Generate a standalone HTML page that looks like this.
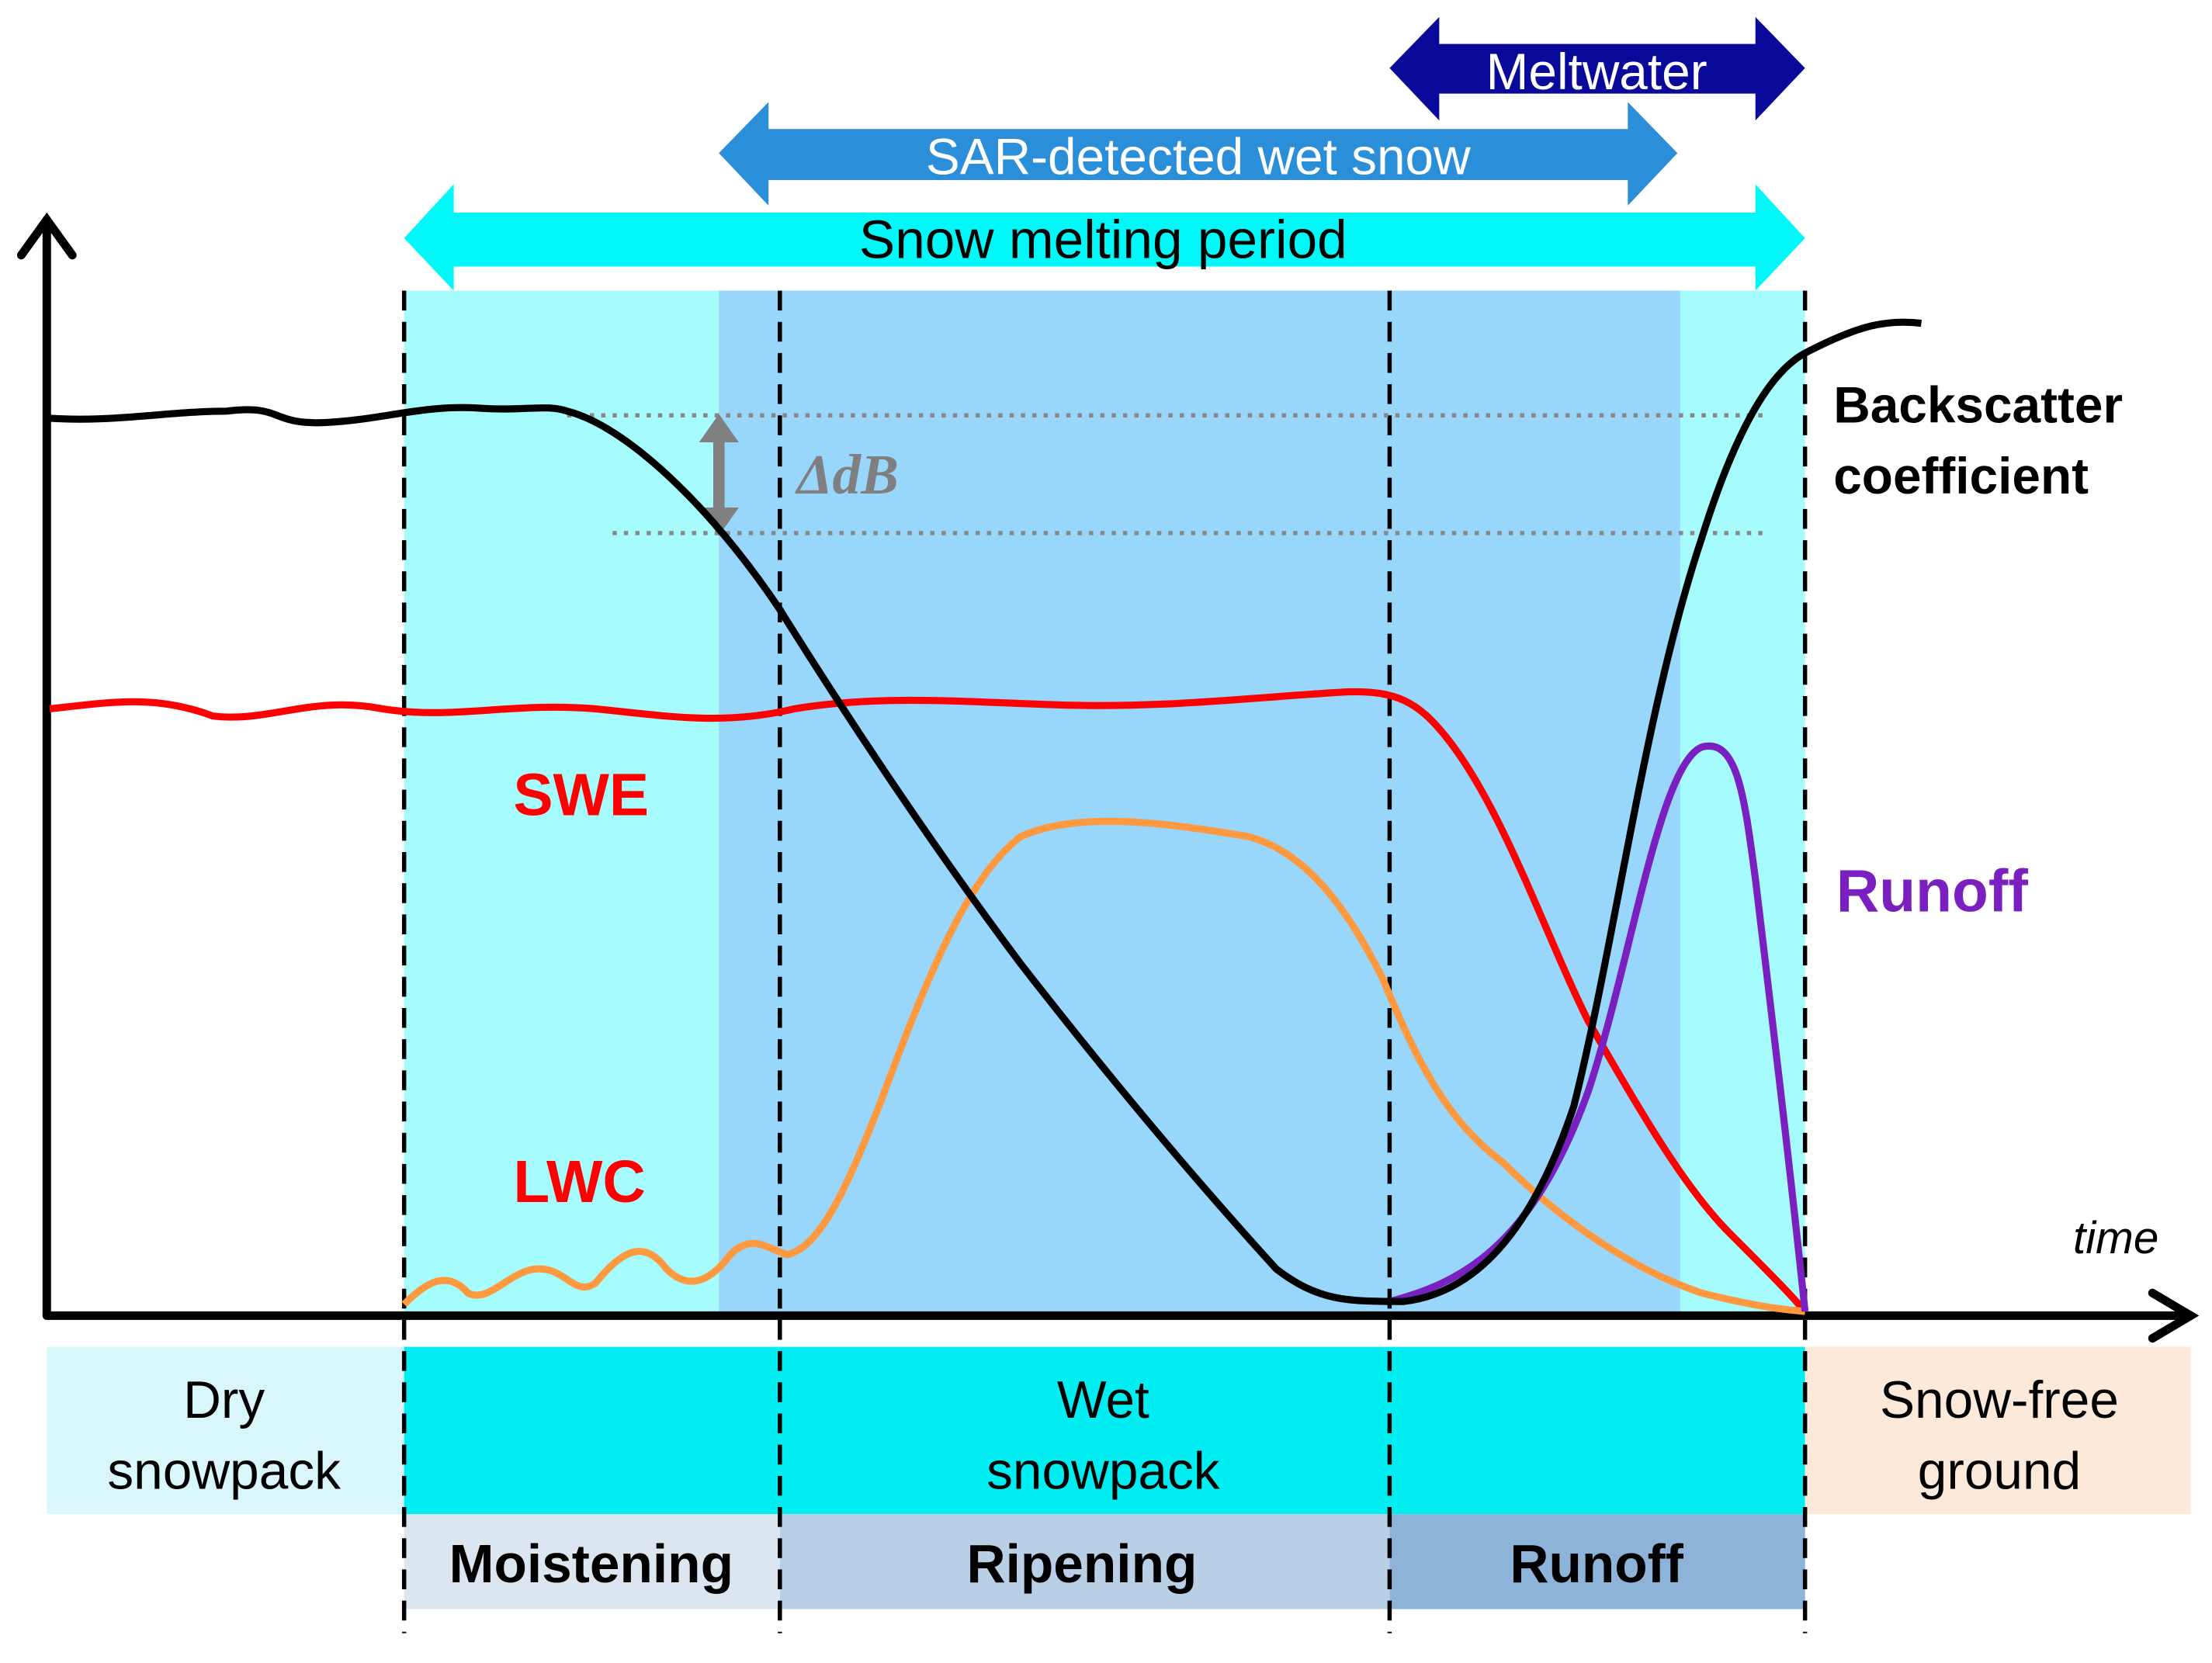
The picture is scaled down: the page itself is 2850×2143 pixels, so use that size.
<!DOCTYPE html>
<html><head><meta charset="utf-8"><style>html,body{margin:0;padding:0;background:#fff}svg{display:block}</style></head>
<body>
<svg width="2850" height="2143" viewBox="0 0 1560 1173" preserveAspectRatio="none" xmlns="http://www.w3.org/2000/svg" font-family="Liberation Sans, sans-serif">
<rect width="1560" height="1173" fill="#fff"/>
<!-- background regions -->
<rect x="285" y="205" width="222" height="723" fill="#a6fcfc"/>
<rect x="507" y="205" width="678" height="723" fill="#99d6fb"/>
<rect x="1185" y="205" width="88" height="723" fill="#a6fcfc"/>
<!-- bottom bands -->
<rect x="33" y="950" width="252" height="118" fill="#d9f7fb"/>
<rect x="285" y="950" width="988" height="118" fill="#00eef2"/>
<rect x="1273" y="950" width="272" height="118" fill="#fde9d9"/>
<rect x="285" y="1068" width="265" height="67" fill="#dce6f0"/>
<rect x="550" y="1068" width="430" height="67" fill="#b8cfe6"/>
<rect x="980" y="1068" width="293" height="67" fill="#8db3d9"/>
<!-- top arrows -->
<polygon points="285,168 320,130 320,150 1238,150 1238,130 1273,168 1238,205 1238,188 320,188 320,205" fill="#00f8f8"/>
<text x="778" y="182" font-size="38" text-anchor="middle" fill="#000">Snow melting period</text>
<polygon points="507,108 542,72 542,91 1148,91 1148,72 1183,108 1148,145 1148,127 542,127 542,145" fill="#2a8fd8"/>
<text x="845" y="123" font-size="36" text-anchor="middle" fill="#fff">SAR-detected  wet snow</text>
<polygon points="980,48 1015,12 1015,31 1238,31 1238,12 1273,48 1238,85 1238,66 1015,66 1015,85" fill="#0a0a9a"/>
<text x="1126" y="63" font-size="36" text-anchor="middle" fill="#fff">Meltwater</text>
<!-- dashed verticals -->
<g stroke="#000" stroke-width="3" stroke-dasharray="14,8">
<line x1="285" y1="205" x2="285" y2="1152"/>
<line x1="550" y1="205" x2="550" y2="1152"/>
<line x1="980" y1="205" x2="980" y2="1152"/>
<line x1="1273" y1="205" x2="1273" y2="1152"/>
</g>
<!-- dotted lines -->
<g stroke="#888" stroke-width="3" stroke-dasharray="3,5">
<line x1="400" y1="293" x2="1245" y2="293"/>
<line x1="432" y1="376" x2="1245" y2="376"/>
</g>
<g fill="#808080">
<rect x="503" y="310" width="8" height="50"/>
<polygon points="493,312 507,292 521,312"/>
<polygon points="493,358 507,378 521,358"/>
</g>
<text x="562" y="348" font-size="40" font-family="Liberation Serif, serif" font-style="italic" font-weight="bold" fill="#7f7f7f">ΔdB</text>
<!-- axes -->
<g stroke="#000" stroke-width="6" fill="none" stroke-linecap="round">
<line x1="33" y1="155" x2="33" y2="928"/>
<line x1="33" y1="928" x2="1545" y2="928"/>
<polyline points="15,180 33,155 51,180"/>
<polyline points="1518,912 1545,928 1518,944"/>
</g>
<!-- curves -->
<path d="M35,500 C80,495 110,490 150,505 C190,510 220,490 270,500 C320,508 360,495 420,500 C470,505 510,512 560,500 C620,490 680,495 740,497 C820,500 880,492 950,488 C985,487 1000,495 1020,520 C1060,570 1090,660 1120,720 C1160,790 1190,840 1220,870 C1245,895 1262,912 1273,925" stroke="#ff0000" stroke-width="5" fill="none"/>
<path d="M285,920 C300,905 315,895 330,912 C345,920 360,895 380,895 C400,895 405,915 420,905 C440,880 455,875 470,895 C485,910 500,905 515,885 C530,870 540,880 555,885 C580,880 600,830 620,780 C650,700 680,620 720,590 C760,572 820,580 880,590 C920,600 950,640 975,690 C1000,750 1020,790 1060,820 C1100,860 1150,895 1200,912 C1240,922 1260,924 1273,925" stroke="#ff9940" stroke-width="5" fill="none"/>
<path d="M980,918 C1030,905 1080,880 1120,770 C1150,680 1170,540 1200,527 C1225,520 1230,560 1238,620 C1250,720 1262,820 1273,925" stroke="#7a1fc0" stroke-width="5" fill="none"/>
<path d="M35,295 C80,298 120,290 160,290 C200,285 190,300 230,298 C270,296 300,285 340,288 C370,290 385,285 400,290 C440,300 500,355 550,430 C600,510 660,600 720,680 C790,770 850,840 900,895 C930,918 950,918 990,918 C1040,912 1080,870 1110,780 C1140,660 1160,500 1200,380 C1225,300 1250,260 1275,248 C1310,230 1330,225 1355,228" stroke="#000" stroke-width="5" fill="none"/>
<!-- labels -->
<g font-weight="bold">
<text x="362" y="575" font-size="42" fill="#ff0000">SWE</text>
<text x="362" y="848" font-size="42" fill="#ff0000">LWC</text>
<text x="1293" y="298" font-size="36" fill="#000">Backscatter</text>
<text x="1293" y="348" font-size="36" fill="#000">coefficient</text>
<text x="1295" y="643" font-size="42" fill="#7a1fc0">Runoff</text>
<text x="417" y="1116" font-size="38" text-anchor="middle" fill="#000">Moistening</text>
<text x="763" y="1116" font-size="38" text-anchor="middle" fill="#000">Ripening</text>
<text x="1126" y="1116" font-size="38" text-anchor="middle" fill="#000">Runoff</text>
</g>
<text x="1462" y="884" font-size="32" font-style="italic" fill="#000">time</text>
<g font-size="37" text-anchor="middle" fill="#000">
<text x="158" y="1000">Dry</text>
<text x="158" y="1050">snowpack</text>
<text x="778" y="1000">Wet</text>
<text x="778" y="1050">snowpack</text>
<text x="1410" y="1000">Snow-free</text>
<text x="1410" y="1050">ground</text>
</g>
</svg>
</body></html>
